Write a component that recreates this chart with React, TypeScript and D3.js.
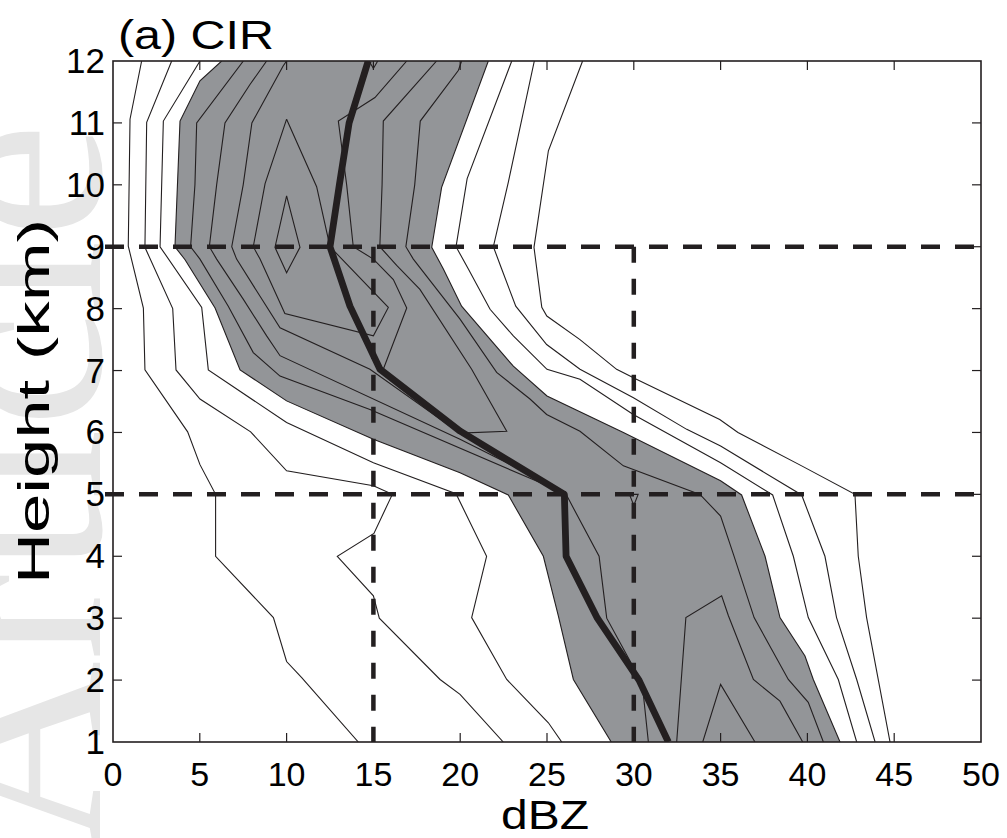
import React from "react";
import * as d3 from "d3";

const W = 1007;
const H = 838;

const xTicks = [0, 5, 10, 15, 20, 25, 30, 35, 40, 45, 50];
const yTicks = [1, 2, 3, 4, 5, 6, 7, 8, 9, 10, 11, 12];
const dashedHeights = [9, 5];
const dashedDbz = [15, 30];

// Contour polylines, points are [dBZ, height km]
const outerLeft1 = [[1.65,12],[0.98,11.06],[0.88,9.01],[1.75,8.01],[1.84,7.01],[4.3,6.01],[5.01,5.48],[5.91,5.0],[5.91,4.0],[9.24,3.01],[10.0,2.3],[10.87,2.04],[14.13,1.0]];
const outerLeft2 = [[3.38,12],[1.94,11.01],[1.84,8.99],[3.44,8.0],[3.63,7.01],[5.01,6.54],[7.93,6.01],[10.0,5.38],[15.0,5.14],[16.09,5.0],[15.03,4.37],[12.92,4.0],[15.0,3.36],[15.34,3.0],[18.84,2.01],[19.99,1.77],[22.48,1.0]];
const outerLeft3 = [[5.01,12],[2.9,11.03],[2.71,9.0],[5.11,8.02],[5.49,7.01],[10.0,6.16],[15.0,5.51],[19.76,5.01],[21.52,4.0],[20.66,3.01],[22.68,2.01],[25.08,1.31],[25.85,1.0]];
const outerRight3 = [[22.97,12],[20.4,10.1],[19.76,9.0],[20.47,8.64],[21.72,7.99],[23.06,7.56],[25.0,7.02],[26.9,6.86],[29.97,6.29],[35.0,5.51],[38.0,4.99],[39.19,4.0],[40.05,3.01],[41.78,2.01],[42.84,1.0]];
const outerRight2 = [[24.27,12],[22.77,10.04],[21.91,9.0],[22.39,8.64],[23.2,8.04],[24.98,7.42],[26.9,7.02],[29.98,6.56],[33.05,6.05],[35.0,5.78],[39.67,4.99],[41.01,4.0],[41.68,3.01],[42.84,2.01],[43.9,1.0]];
const outerRight1 = [[27.05,12],[25.08,10.55],[24.25,8.99],[24.7,8.02],[24.99,7.88],[26.9,7.5],[29.01,7.02],[30.15,6.86],[34.95,6.21],[36.0,6.0],[39.67,5.46],[42.74,5.0],[42.93,4.0],[43.41,3.01],[44.76,1.0]];

// boundary of the shaded region
const grayLeft = [[6.26,12],[5.01,11.68],[3.86,11.03],[3.57,9.0],[4.15,8.79],[5.88,8.01],[7.32,7.01],[10.0,6.51],[15.0,5.89],[19.99,5.35],[22.77,4.99],[24.79,4.0],[25.65,3.04],[26.52,2.01],[28.7,1.0]];
const grayRight = [[21.62,12],[18.93,9.96],[18.36,8.99],[19.03,8.64],[20.08,8.04],[23.06,7.07],[25.0,6.59],[29.4,6.0],[35.0,5.22],[36.21,4.99],[37.56,4.0],[38.42,3.01],[39.86,2.39],[40.34,2.01],[41.88,1.0]];

// inner contours
const inner5 = [[7.51,12],[4.82,11],[4.72,10],[4.47,9],[5.01,8.8],[6.64,8.04],[8.08,7.29],[9.62,6.91],[14.8,6.37],[24.6,5.19],[26.1,5.03]];
const inner5Lower = [[26.1,5.0],[28.0,4.0],[28.44,3.0],[29.9,2.25],[30.55,1.77],[30.84,1.0]];
const inner6 = [[8.85,12],[7.89,11.62],[6.45,11],[5.97,10],[5.55,9],[5.97,8.8],[7.51,8.15],[8.85,7.56],[9.62,7.24],[19.99,5.89],[26.1,5.03]];
const inner7 = [[10.0,12],[9.8,11.92],[8.0,11.0],[7.5,10],[6.84,9],[7.12,8.8],[8.47,8.2],[9.62,7.69],[14.8,7.02],[19.99,5.99],[22.68,6.02],[20.66,7.02],[17.68,8.31],[16.34,8.7],[15.37,9.0],[15.5,10],[15.57,11.03],[18.64,12]];
const inner8 = [[10.0,11.06],[8.76,10.02],[8.08,9.0],[8.47,8.8],[9.9,7.92],[15.0,7.56],[15.86,8.02],[12.98,8.86],[12.5,9.0],[11.73,9.97],[10.0,11.06]];
const inner9 = [[10.0,9.82],[10.77,8.99],[10.0,8.58],[9.33,8.99],[10.0,9.82]];
const innerRight7 = [[16.92,12],[15.09,11.41],[12.98,11.03],[13.46,10],[13.84,9.0],[15.0,8.8],[16.15,8.47],[16.92,8.01],[15.57,7.02]];
const innerRight5 = [[20.08,12],[19.9,11.85],[17.7,11.03],[17.38,10],[16.87,9],[17.3,8.8],[19.99,7.83],[22.1,6.97],[24.02,6.54],[24.98,6.29],[26.9,6.02],[29.4,5.46],[33.81,5.0],[35.0,4.65],[35.74,4.03],[36.93,3.01],[38.9,2.01],[40.05,1.64],[40.92,1.0]];
const lowerPeakA = [[32.47,1.0],[33.0,3.01],[35.06,3.36],[35.45,3.04],[36.89,2.01],[38.42,1.66],[39.73,1.0]];
const lowerPeakB = [[33.97,1.0],[35.0,1.93],[36.98,1.0]];
const tinyMid = [[29.75,5.0],[30.25,5.0],[30.0,4.82],[29.75,5.0]];
const tinyTop = [[14.75,12],[15.0,11.88],[15.25,12]];

// median profile (thick line)
const median = [[31.99,1],[30.3,2],[27.9,3],[26.1,4],[26.0,5],[20.0,6.02],[15.38,7.02],[13.65,8.04],[12.5,9],[13.04,10],[13.6,11],[14.7,12]];

const INK = "#231f20";
const FONT = "'Liberation Sans', Arial, Helvetica, sans-serif";

export default function App() {
  const left = 113, right = 981, top = 61, bottom = 742;
  const x = d3.scaleLinear().domain([0, 50]).range([left, right]);
  const y = d3.scaleLinear().domain([1, 12]).range([bottom, top]);
  const line = d3.line<number[]>().x((d) => x(d[0])).y((d) => y(d[1]));

  const thin = [outerLeft1, outerLeft2, outerLeft3, outerRight1, outerRight2, outerRight3,
    grayLeft, grayRight, inner5, inner5Lower, inner6, inner7, inner8, inner9,
    innerRight7, innerRight5, lowerPeakA, lowerPeakB, tinyMid, tinyTop];

  const fillPts = [...grayLeft, ...grayRight.slice().reverse()];
  const fillPath = line(fillPts) + "Z";

  return (
    <div style={{ position: "absolute", left: 0, top: 0 }}>
      <svg width={W} height={H} style={{ display: "block", background: "#fff" }}>
        <defs>
          <clipPath id="plotClip">
            <rect x={left} y={top} width={right - left} height={bottom - top} />
          </clipPath>
        </defs>
        <text transform="translate(100,850) rotate(-90)" fontFamily="'Liberation Serif', serif"
          fontSize={262} fill="#e6e6e6">Article</text>

        <g clipPath="url(#plotClip)">
          <path d={fillPath} fill="#939598" stroke="none" />
          {thin.map((c, i) => (
            <path key={i} d={line(c) || ""} fill="none" stroke={INK} strokeWidth={1.1} strokeLinejoin="miter" />
          ))}
          <path d={line(median) || ""} fill="none" stroke={INK} strokeWidth={6.8} strokeLinejoin="round" />
        </g>

        {dashedDbz.map((d) => (
          <line key={"v" + d} x1={x(d)} x2={x(d)} y1={y(9)} y2={y(1)} stroke={INK}
            strokeWidth={4.5} strokeDasharray="16 16" />
        ))}
        {dashedHeights.map((h) => (
          <line key={"h" + h} x1={105} x2={right} y1={y(h)} y2={y(h)} stroke={INK}
            strokeWidth={4.5} strokeDasharray="19 15" />
        ))}

        <rect x={left} y={top} width={right - left} height={bottom - top} fill="none" stroke={INK} strokeWidth={1.6} />
        {xTicks.slice(1, -1).map((t) => (
          <g key={"xt" + t}>
            <line x1={x(t)} x2={x(t)} y1={bottom} y2={bottom - 9} stroke={INK} strokeWidth={1.2} />
            <line x1={x(t)} x2={x(t)} y1={top} y2={top + 9} stroke={INK} strokeWidth={1.2} />
          </g>
        ))}
        {yTicks.slice(1, -1).map((t) => (
          <g key={"yt" + t}>
            <line x1={left} x2={left + 9} y1={y(t)} y2={y(t)} stroke={INK} strokeWidth={1.2} />
            <line x1={right} x2={right - 9} y1={y(t)} y2={y(t)} stroke={INK} strokeWidth={1.2} />
          </g>
        ))}

        {xTicks.map((t) => (
          <text key={"xl" + t} x={x(t)} y={786} textAnchor="middle" fontFamily={FONT} fontSize={34} fill="#000">{t}</text>
        ))}
        {yTicks.map((t) => (
          <text key={"yl" + t} x={105} y={y(t) + 12} textAnchor="end" fontFamily={FONT} fontSize={35} fill="#000">{t}</text>
        ))}
        <text x={545} y={829} textAnchor="middle" fontFamily={FONT} fontSize={40}
          textLength={88} lengthAdjust="spacingAndGlyphs" fill="#000">dBZ</text>
        <text transform={`translate(49,${(top + bottom) / 2}) rotate(-90)`} textAnchor="middle" fontFamily={FONT}
          fontSize={44} textLength={365} lengthAdjust="spacingAndGlyphs" fill="#000">Height (km)</text>
        <text x={118} y={49} fontFamily={FONT} fontSize={41} textLength={156} lengthAdjust="spacingAndGlyphs" fill="#000">(a) CIR</text>
      </svg>
    </div>
  );
}
